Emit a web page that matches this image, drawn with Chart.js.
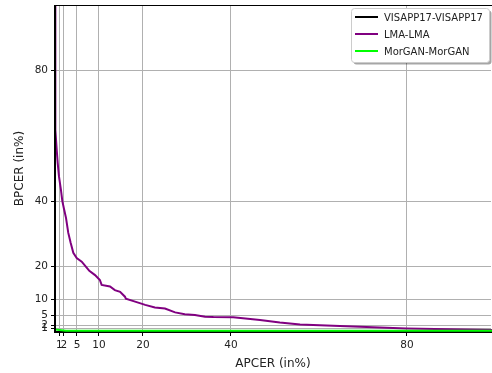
<!DOCTYPE html>
<html>
<head>
<meta charset="utf-8">
<script src="https://cdn.jsdelivr.net/npm/chart.js@4/dist/chart.umd.min.js"></script>
<style>
  body { margin: 0; background: #fff; }
  #wrap { width: 492px; height: 373px; }
</style>
</head>
<body>
<div id="wrap"><canvas id="det" width="492" height="373"></canvas></div>
<script>
// tick positions used on both axes
const tickValues = [1, 2, 5, 10, 20, 40, 80];

// VISAPP17 sits flat on zero
const visappApcer = [0, 100];
const visappBpcer = [0, 0];

// LMA curve
const lmaApcer = [0, 0, 0.16, 0.39, 0.61, 0.91, 1.36, 1.66, 2.05, 2.5, 3.02, 3.57, 4.16, 4.93, 6.07, 6.82, 7.8, 9.1, 10.2, 10.6, 12.5, 13.6, 14.8, 15.9, 16.1, 18.2, 20.5, 22.7, 25, 27.3, 29.5, 31.8, 34.1, 36, 40.5, 46.6, 51.1, 55.7, 60.2, 79.9, 99.5];
const lmaBpcer = [100, 64, 61.8, 55.7, 51.7, 47.5, 43.4, 40.1, 37.6, 34.9, 30.3, 27.2, 24.2, 22.6, 21.5, 20.3, 18.7, 17.4, 15.9, 14.4, 13.9, 12.8, 12.3, 10.8, 10.2, 9.3, 8.3, 7.5, 7.2, 6.0, 5.4, 5.2, 4.7, 4.6, 4.5, 3.7, 2.9, 2.3, 2.1, 1.1, 0.6];

// MorGAN hugs the bottom
const morganApcer = [0, 2.5, 100];
const morganBpcer = [0.8, 0.4, 0.4];

function toPoints(xs, ys) {
    return xs.map((x, i) => ({ x: x, y: ys[i] }));
}

const fontFamily = "'DejaVu Sans', sans-serif";
const textColor = "#222";

// spines over the lines, like matplotlib does
const spines = {
    id: "spines",
    afterDatasetsDraw(chart) {
        const ctx = chart.ctx;
        const a = chart.chartArea;
        ctx.save();
        ctx.strokeStyle = "#000";
        ctx.lineWidth = 1;
        ctx.beginPath();
        ctx.moveTo(a.left, a.top + 0.5);
        ctx.lineTo(a.right + 1, a.top + 0.5);
        ctx.stroke();
        ctx.lineWidth = 2;
        ctx.beginPath();
        ctx.moveTo(a.left, a.top);
        ctx.lineTo(a.left, a.bottom + 1);
        ctx.stroke();
        ctx.restore();
    }
};

// matplotlib-ish legend box in the upper right
const boxLegend = {
    id: "boxLegend",
    afterDraw(chart) {
        const ctx = chart.ctx;
        ctx.save();
        const bx = 351.5, by = 8.5, bw = 138, bh = 54;
        ctx.fillStyle = "rgba(0,0,0,0.35)";
        roundRect(ctx, bx + 2, by + 2, bw, bh, 3);
        ctx.fill();
        ctx.fillStyle = "#fff";
        ctx.strokeStyle = "#ccc";
        ctx.lineWidth = 1;
        roundRect(ctx, bx, by, bw, bh, 3);
        ctx.fill();
        ctx.stroke();

        ctx.font = "10px " + fontFamily;
        ctx.textBaseline = "middle";
        ctx.textAlign = "left";
        chart.data.datasets.forEach((ds, i) => {
            const y = 17 + i * 17;
            ctx.strokeStyle = ds.borderColor;
            ctx.lineWidth = 2;
            ctx.beginPath();
            ctx.moveTo(355, y);
            ctx.lineTo(378, y);
            ctx.stroke();
            ctx.fillStyle = textColor;
            ctx.fillText(ds.label, 384, y + 1);
        });
        ctx.restore();
    }
};

function roundRect(ctx, x, y, w, h, r) {
    ctx.beginPath();
    ctx.moveTo(x + r, y);
    ctx.lineTo(x + w - r, y);
    ctx.arcTo(x + w, y, x + w, y + r, r);
    ctx.lineTo(x + w, y + h - r);
    ctx.arcTo(x + w, y + h, x + w - r, y + h, r);
    ctx.lineTo(x + r, y + h);
    ctx.arcTo(x, y + h, x, y + h - r, r);
    ctx.lineTo(x, y + r);
    ctx.arcTo(x, y, x + r, y, r);
    ctx.closePath();
}

function fixedTicks(scale) {
    scale.ticks = tickValues.map(v => ({ value: v }));
}

new Chart(document.getElementById("det"), {
    type: "scatter",
    data: {
        datasets: [
            {
                label: "VISAPP17-VISAPP17",
                data: toPoints(visappApcer, visappBpcer),
                borderColor: "#000000",
                borderWidth: 2,
                showLine: true,
                pointRadius: 0,
                clip: 3,
                order: 3
            },
            {
                label: "LMA-LMA",
                data: toPoints(lmaApcer, lmaBpcer),
                borderColor: "#800080",
                borderWidth: 2,
                showLine: true,
                pointRadius: 0,
                clip: 3,
                order: 2
            },
            {
                label: "MorGAN-MorGAN",
                data: toPoints(morganApcer, morganBpcer),
                borderColor: "#00ff00",
                borderWidth: 2,
                showLine: true,
                pointRadius: 0,
                clip: 3,
                order: 1
            }
        ]
    },
    options: {
        responsive: false,
        animation: false,
        layout: { padding: { top: 5, right: 1, left: 0, bottom: 0 } },
        plugins: {
            legend: { display: false },
            tooltip: { enabled: false }
        },
        scales: {
            x: {
                type: "linear",
                min: 0,
                max: 99.1,
                afterBuildTicks: fixedTicks,
                afterFit: (s) => { s.height = 41; s.paddingLeft = 0; s.paddingRight = 0; },
                grid: { color: "#b0b0b0", lineWidth: 1, tickColor: "#000", tickLength: 4 },
                border: { color: "#000", width: 1 },
                ticks: {
                    color: textColor,
                    padding: 3,
                    maxRotation: 0,
                    autoSkip: false,
                    font: { family: fontFamily, size: 10.5 }
                },
                title: {
                    display: true,
                    text: "APCER (in%)",
                    color: textColor,
                    padding: { top: 0, bottom: 2 },
                    font: { family: fontFamily, size: 12 }
                }
            },
            y: {
                type: "linear",
                min: 0,
                max: 100,
                afterBuildTicks: fixedTicks,
                afterFit: (s) => { s.width = 55; s.paddingTop = 0; s.paddingBottom = 0; },
                grid: { color: "#b0b0b0", lineWidth: 1, tickColor: "#000", tickLength: 4 },
                border: { color: "#000", width: 1 },
                ticks: {
                    color: textColor,
                    padding: 3,
                    autoSkip: false,
                    font: { family: fontFamily, size: 10.5 }
                },
                title: {
                    display: true,
                    text: "BPCER (in%)",
                    color: textColor,
                    padding: { top: 13, bottom: 0 },
                    font: { family: fontFamily, size: 12 }
                }
            }
        }
    },
    plugins: [spines, boxLegend]
});
</script>
</body>
</html>
